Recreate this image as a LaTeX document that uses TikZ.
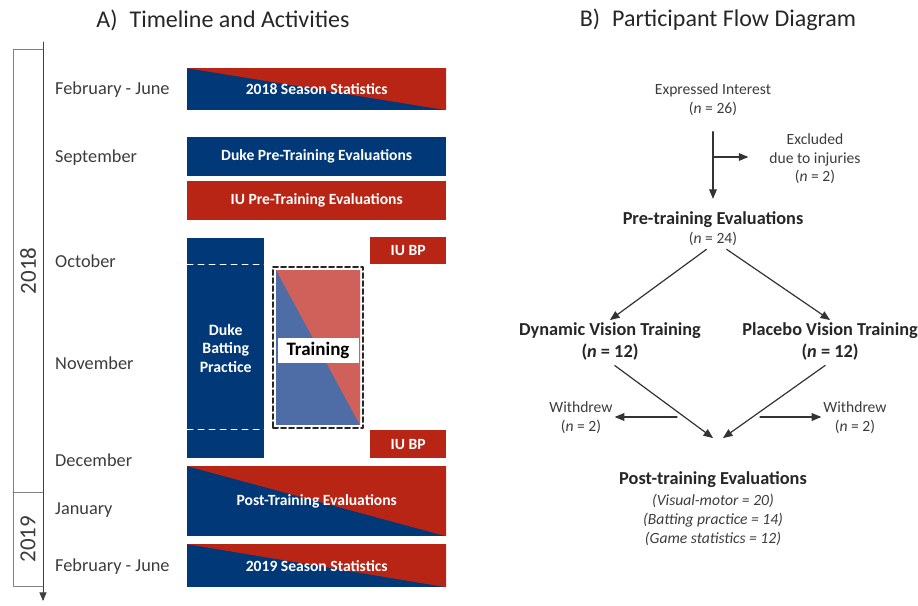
\documentclass[tikz,border=0pt]{standalone}
\usepackage{fontspec}
\setmainfont{Carlito}
\usetikzlibrary{arrows}
\definecolor{dukeblue}{RGB}{0,56,120}
\definecolor{iured}{RGB}{184,37,20}
\definecolor{trainblue}{RGB}{78,108,166}
\definecolor{trainred}{RGB}{208,96,90}
\definecolor{inkgray}{RGB}{60,60,60}
\newcommand{\flowhead}{\fontsize{18.3}{20}\selectfont\bfseries\color{black!85}}

\tikzset{
  month/.style={anchor=west,inner sep=0pt,text=inkgray,font=\fontsize{18.3}{18}\selectfont},
  bar/.style={anchor=north west,inner sep=0pt,text=white,align=center,font=\fontsize{15.6}{17}\selectfont\bfseries},
  bluebar/.style={bar,fill=dukeblue},
  redbar/.style={bar,fill=iured},
  splitbar/.style={bar,fill=dukeblue,path picture={\fill[iured] (path picture bounding box.north west) -- (path picture bounding box.north east) -- (path picture bounding box.south east) -- cycle;}},
  flow/.style={align=center,inner sep=2pt,text=inkgray,font=\fontsize{15.6}{19}\selectfont},
  flowline/.style={->,line width=1.2pt,color=black!80},
  heading/.style={font=\fontsize{24}{24}\selectfont,text=black!85},
}

\begin{document}
\begin{tikzpicture}[x=1pt,y=-1pt,line cap=round,line join=round,>=triangle 45]
        \useasboundingbox (0,0) rectangle (918,605);
        % titles
        \node[heading] (titleA) at (223,20) {A)\enspace Timeline and Activities};
        \node[heading] (titleB) at (718,20) {B)\enspace Participant Flow Diagram};
        % time axis and years
        \coordinate (axtop) at (43,42);
        \coordinate (axbot) at (43,601);
        \draw[->,line width=1pt,color=black!75] (axtop) -- (axbot);
        \draw[color=black!50,line width=0.9pt] (43,49) -- (13,49) -- (13,586) -- (43,586);
        \draw[color=black!50,line width=0.9pt] (13,492) -- (43,492);
        \node[heading,rotate=90,font=\fontsize{23}{23}\selectfont,text=inkgray] (y2018) at (28,271) {2018};
        \node[heading,rotate=90,font=\fontsize{23}{23}\selectfont,text=inkgray] (y2019) at (28,539) {2019};
        \node[month] (feb18) at (55,90) {February - June};
        \node[month] (sep) at (55,158) {September};
        \node[month] (oct) at (55,261) {October};
        \node[month] (nov) at (55,363) {November};
        \node[month] (dec) at (55,460) {December};
        \node[month] (jan) at (55,510) {January};
        \node[month] (feb19) at (55,567) {February - June};
        % activities
        \node[splitbar,minimum width=259pt,minimum height=42pt] (stats18) at (187,68) {2018 Season Statistics};
        \node[bluebar,minimum width=259pt,minimum height=39pt] (dukepre) at (187,137) {Duke Pre-Training Evaluations};
        \node[redbar,minimum width=259pt,minimum height=39pt] (iupre) at (187,181) {IU Pre-Training Evaluations};
        \node[bluebar,minimum width=77pt,minimum height=220pt,font=\fontsize{15.8}{18.5}\selectfont\bfseries] (dukebp) at (187,238) {Duke\\Batting\\Practice};
        \draw[white,dashed,line width=1pt,dash pattern=on 6pt off 5pt] (dukebp.west |- 0,264) -- (dukebp.east |- 0,264);
        \draw[white,dashed,line width=1pt,dash pattern=on 6pt off 5pt] (dukebp.west |- 0,429) -- (dukebp.east |- 0,429);
        \node[redbar,minimum width=76pt,minimum height=27pt] (iubp1) at (370,237) {IU BP};
        \node[redbar,minimum width=76pt,minimum height=28pt] (iubp2) at (370,430) {IU BP};
        \node[draw=black!85,dashed,line width=2pt,dash pattern=on 5pt off 3pt,anchor=north west,inner sep=0pt,minimum width=90pt,minimum height=161pt] (train) at (272,266) {};
        \fill[trainblue] ([xshift=4pt,yshift=-4pt]train.north west) rectangle ([xshift=-4pt,yshift=4pt]train.south east);
        \fill[trainred] ([xshift=4pt,yshift=-4pt]train.north west) -- ([xshift=-4pt,yshift=-4pt]train.north east) -- ([xshift=-4pt,yshift=4pt]train.south east) -- cycle;
        \node[fill=white,inner sep=0pt,minimum width=81pt,minimum height=25pt,font=\fontsize{19}{19}\selectfont\bfseries] (trainlabel) at ([yshift=-3pt]train.center) {Training};
        \node[splitbar,minimum width=259pt,minimum height=70pt] (posteval) at (187,466) {Post-Training Evaluations};
        \node[splitbar,minimum width=259pt,minimum height=43pt] (stats19) at (187,544) {2019 Season Statistics};
        % participant flow
        \node[flow] (interest) at (713,99.5) {Expressed Interest\\(\textit{n} = 26)};
        \node[flow,font=\fontsize{15.6}{18.5}\selectfont] (excluded) at (815,159) {Excluded\\due to injuries\\(\textit{n} = 2)};
        \node[flow] (pretrain) at (713,229) {{\flowhead Pre-training Evaluations}\\(\textit{n} = 24)};
        \node[flow] (dynamic) at (610,341) {{\flowhead Dynamic Vision Training}\\[3pt]{\flowhead (\textit{n} = 12)}};
        \node[flow] (placebo) at (830,341) {{\flowhead Placebo Vision Training}\\[3pt]{\flowhead (\textit{n} = 12)}};
        \node[flow] (wdleft) at (581,417.5) {Withdrew\\(\textit{n} = 2)};
        \node[flow] (wdright) at (855,417.5) {Withdrew\\(\textit{n} = 2)};
        \node[flow] (posttrain) at (713,509) {{\flowhead Post-training Evaluations}\\[2pt]\textit{(Visual-motor = 20)}\\\textit{(Batting practice = 14)}\\\textit{(Game statistics = 12)}};
        \coordinate (split) at (713,157);
        \coordinate (mergeL) at (713,438);
        \coordinate (mergeR) at (723,438);
        \coordinate (wdL) at (677,417);
        \coordinate (wdR) at (760,417);
        \draw[flowline,shorten <=14pt,shorten >=11pt] (interest.south) -- (pretrain.north);
        \draw[flowline,shorten >=19pt] (split) -- (split -| excluded.west);
        \draw[flowline,shorten <=2pt] ([xshift=-5pt]pretrain.south) -- (dynamic.north);
        \draw[flowline,shorten <=2pt] ([xshift=12pt]pretrain.south) -- (placebo.north);
        \draw[flowline,shorten <=6pt] (dynamic.south) -- (mergeL);
        \draw[flowline,shorten <=6pt] (placebo.south) -- (mergeR);
        \draw[flowline] (wdL) -- (wdL -| wdleft.east);
        \draw[flowline] (wdR) -- (wdR -| wdright.west);
      \end{tikzpicture}
\end{document}
